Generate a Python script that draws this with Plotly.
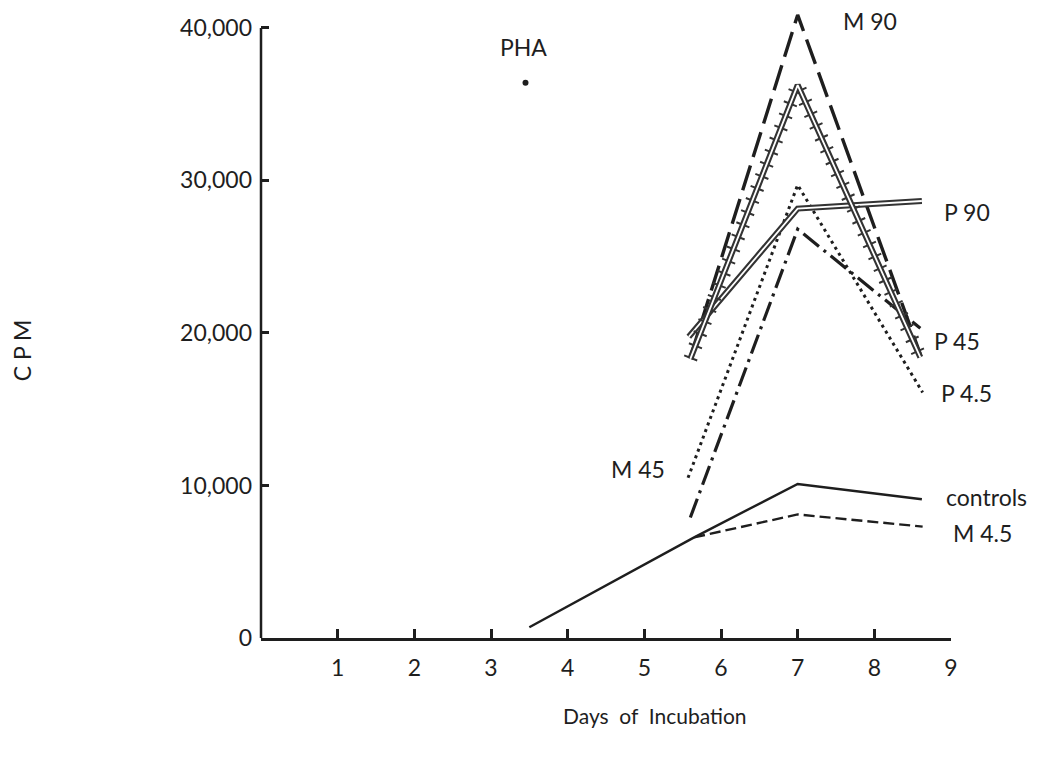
import plotly.graph_objects as go

# ---- data ----
x_ticks = [1, 2, 3, 4, 5, 6, 7, 8, 9]
y_ticks = [0, 10000, 20000, 30000, 40000]
y_tick_text = ["0", "10,000", "20,000", "30,000", "40,000"]

controls_x = [3.5, 5.65, 7.0, 8.62]
controls_y = [700, 6600, 10100, 9100]

m45_x = [5.6, 7.0, 8.6]
m45_y = [7900, 26800, 20300]

m4_5_x = [5.65, 7.0, 8.63]
m4_5_y = [6600, 8100, 7300]

m90_x = [5.6, 7.0, 8.6]
m90_y = [18400, 40850, 18600]

p45_x = [5.6, 7.0, 8.6]
p45_y = [18300, 36250, 18400]

p90_x = [5.58, 7.0, 8.62]
p90_y = [19750, 28150, 28650]

p4_5_x = [5.57, 7.0, 8.63]
p4_5_y = [10500, 29700, 16100]

pha_x = [3.45]
pha_y = [36400]

INK = "#1e1e1e"
FONT = "Lato, 'Noto Sans', sans-serif"

fig = go.Figure()

def line(x, y, width, dash="solid", color=INK):
    fig.add_trace(go.Scatter(x=x, y=y, mode="lines", showlegend=False,
                             hoverinfo="skip",
                             line=dict(color=color, width=width, dash=dash)))

# controls (solid) and M 4.5 (dashed)
line(controls_x, controls_y, 2.4)
line(m4_5_x, m4_5_y, 2.4, "11px,5px")
# M 45 (dash-dot)
line(m45_x, m45_y, 3.2, "20px,6px,3px,6px")
# P 4.5 (dotted)
line(p4_5_x, p4_5_y, 3, "3px,4px")
# M 90 (long dashes)
line(m90_x, m90_y, 3.4, "26px,9px")
# P 90 (double line)
line(p90_x, p90_y, 6, "solid", "#333333")
line(p90_x, p90_y, 1.8, "solid", "white")
# P 45 (double line with cross ticks)
line(p45_x, p45_y, 14, "2px,11px", "#333333")
line(p45_x, p45_y, 6, "solid", "#333333")
line(p45_x, p45_y, 1.8, "solid", "white")

# PHA point
fig.add_trace(go.Scatter(x=pha_x, y=pha_y, mode="markers", showlegend=False,
                         hoverinfo="skip",
                         marker=dict(color=INK, size=6)))

labels = [
    ("M 90", 0.883, 0.975),
    ("P 90", 1.023, 0.673),
    ("P 45", 1.009, 0.469),
    ("P 4.5", 1.022, 0.387),
    ("M 45", 0.546, 0.267),
    ("controls", 1.051, 0.223),
    ("M 4.5", 1.046, 0.166),
    ("PHA", 0.381, 0.934),
]
for txt, px, py in labels:
    fig.add_annotation(text=txt, x=px, y=py, xref="paper", yref="paper",
                       xanchor="center", yanchor="middle",
                       showarrow=False, font=dict(size=23, color=INK, family=FONT))

# axis titles
fig.add_annotation(text="Days  of  Incubation", x=0.571, y=-0.122,
                   xref="paper", yref="paper", xanchor="center", yanchor="middle",
                   showarrow=False, font=dict(size=21, color=INK, family=FONT))
fig.add_annotation(text="C P M", x=-0.346, y=0.455, textangle=-90,
                   xref="paper", yref="paper", xanchor="center", yanchor="middle",
                   showarrow=False, font=dict(size=23, color=INK, family=FONT))

# y-axis line (0 .. 40,000)
fig.add_shape(type="line", xref="paper", yref="paper", x0=0, x1=0,
              y0=0, y1=40000 / 41500, line=dict(color=INK, width=2.5))

fig.update_layout(
    width=1045, height=759,
    margin=dict(l=261, r=94, t=5, b=121),
    paper_bgcolor="white", plot_bgcolor="white",
    font=dict(family=FONT, color=INK, size=20),
    xaxis=dict(range=[0, 9], tickvals=x_ticks, ticks="inside", ticklen=9,
               tickwidth=2.5, tickcolor=INK, showline=True, linewidth=2.5,
               linecolor=INK, showgrid=False, zeroline=False,
               tickfont=dict(size=23), ticklabelstandoff=8),
    yaxis=dict(range=[0, 41500], tickvals=y_ticks, ticktext=y_tick_text,
               ticks="inside", ticklen=8, tickwidth=2.5, tickcolor=INK,
               showline=False, showgrid=False, zeroline=False,
               tickfont=dict(size=23), ticklabelstandoff=8),
)

fig.write_html("out.html")
